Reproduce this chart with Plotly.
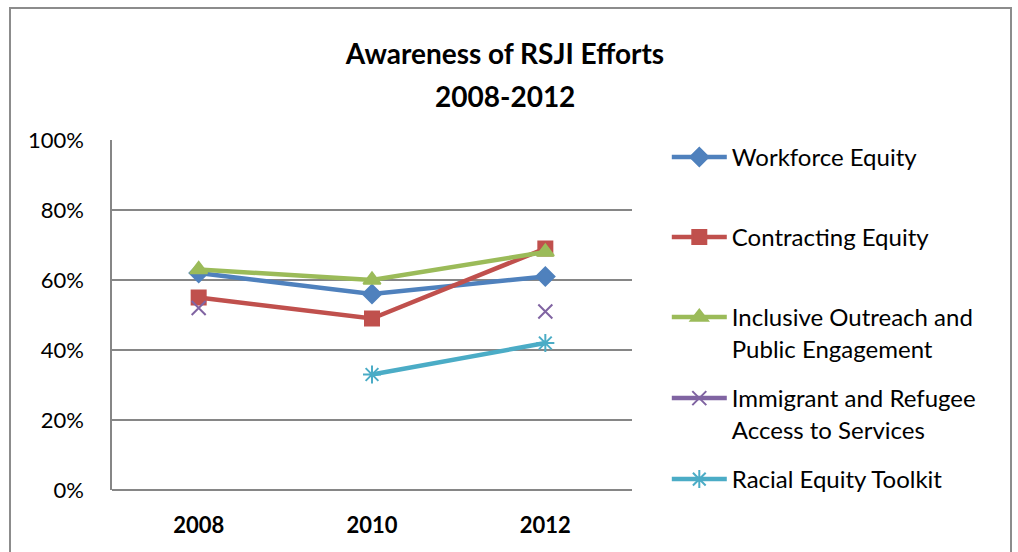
import plotly.graph_objects as go

years = ["2008", "2010", "2012"]
workforce = [0.62, 0.56, 0.61]
contracting = [0.55, 0.49, 0.69]
inclusive = [0.63, 0.60, 0.68]
immigrant = [0.52, None, 0.51]
toolkit = [None, 0.33, 0.42]

names = ["Workforce Equity", "Contracting Equity",
         "Inclusive Outreach and<br>Public Engagement",
         "Immigrant and Refugee<br>Access to Services",
         "Racial Equity Toolkit"]
series = [workforce, contracting, inclusive, immigrant, toolkit]
colors = ["#4F81BD", "#C0504D", "#9BBB59", "#8064A2", "#4BACC6"]
symbols = ["diamond", "square", "triangle-up", "x-thin-open", "asterisk-open"]
msizes = [14, 14, 15, 14, 15]
title_line1 = "Awareness of RSJI Efforts"
title_line2 = "2008-2012"

FONT = "Lato"
W, H = 1018, 552
L, R, T, B = 112, 632, 140, 490
pw, ph = R - L, B - T

fig = go.Figure()
legend_ids = ["legend", "legend2", "legend3", "legend4", "legend5"]
legend_ypx = [135, 215, 295, 376, 457]

for i, (nm, ys) in enumerate(zip(names, series)):
    fig.add_trace(go.Scatter(
        x=years, y=ys, name=nm, mode="lines+markers",
        connectgaps=False,
        line=dict(color=colors[i], width=4.5),
        marker=dict(symbol=symbols[i], size=msizes[i], color=colors[i],
                    line=dict(color=colors[i], width=2)),
        legend=legend_ids[i],
    ))

layout_legends = {}
for i, lid in enumerate(legend_ids):
    layout_legends[lid] = dict(
        x=(672 - L) / pw - 0.01, xanchor="left",
        y=(B - legend_ypx[i]) / ph, yanchor="top",
        bgcolor="rgba(0,0,0,0)", borderwidth=0,
        font=dict(family=FONT, size=24, color="#000000"),
        valign="top", itemwidth=55,
    )

fig.update_layout(
    width=W, height=H,
    margin=dict(l=L, r=W - R, t=T, b=H - B),
    paper_bgcolor="white", plot_bgcolor="white",
    title=dict(text="<b>" + title_line1 + "</b>",
               x=505 / W, xanchor="center", y=1 - 54 / H, yanchor="middle",
               font=dict(family=FONT, size=28, color="#000000")),
    annotations=[dict(text="<b>" + title_line2 + "</b>", xref="paper", yref="paper",
                      x=(505 - L) / pw, y=(B - 96) / ph, xanchor="center",
                      yanchor="middle", showarrow=False,
                      font=dict(family=FONT, size=28, color="#000000"))],
    showlegend=True,
    **layout_legends,
    xaxis=dict(type="category", range=[-0.5, 2.5], showgrid=False,
               showline=False, ticks="", zeroline=False,
               tickfont=dict(family=FONT, size=22, color="#000000", weight="bold"),
               ticklabelstandoff=20),
    yaxis=dict(range=[0, 1], tickvals=[0, 0.2, 0.4, 0.6, 0.8, 1.0],
               tickformat=".0%", showgrid=True, gridcolor="#868686", gridwidth=1.5,
               showline=True, linecolor="#868686", linewidth=1.5,
               zeroline=True, zerolinecolor="#868686", zerolinewidth=1.5,
               ticks="", ticklabelstandoff=22,
               tickfont=dict(family=FONT, size=22, color="#000000")),
    shapes=[dict(type="rect", xref="paper", yref="paper",
                 x0=(10 - L) / pw, x1=(1011 - L) / pw,
                 y0=(B - 600) / ph, y1=(B - 8) / ph,
                 line=dict(color="#8C8C8C", width=2), layer="below")],
)

fig.write_html("out.html")
